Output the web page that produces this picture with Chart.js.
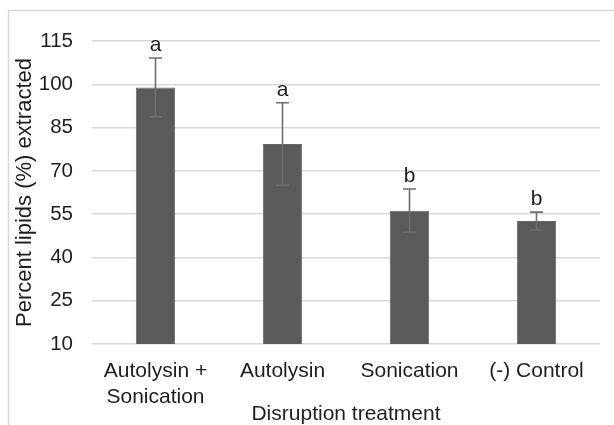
<!DOCTYPE html>
<html>
<head>
<meta charset="utf-8">
<script src="https://cdn.jsdelivr.net/npm/chart.js@4/dist/chart.umd.min.js"></script>
<style>
  html, body { margin: 0; padding: 0; background: #fff; }
  #wrap { position: relative; width: 614px; height: 425px; }
</style>
</head>
<body>
<div id="wrap"><canvas id="c" width="614" height="425"></canvas></div>
<script>
// ---- data ----
const categories = [['Autolysin +', 'Sonication'], 'Autolysin', 'Sonication', '(-) Control'];
const meanValues = [98.9, 79.3, 56.2, 52.6];
const errorValues = [10.2, 14.3, 7.5, 3.1];
const sigLetters = ['a', 'a', 'b', 'b'];
const yTicks = [10, 25, 40, 55, 70, 85, 100, 115];
const yTitle = 'Percent lipids (%) extracted';
const xTitle = 'Disruption treatment';

const FONT = '"Liberation Sans", Arial, sans-serif';
const TEXT = '#1e1e1e';

const framePlugin = {
  id: 'frame',
  beforeDraw(chart) {
    const ctx = chart.ctx;
    ctx.save();
    ctx.fillStyle = '#fff';
    ctx.fillRect(0, 0, chart.width, chart.height);
    ctx.strokeStyle = '#d9d9d9';
    ctx.lineWidth = 1.5;
    ctx.beginPath();
    ctx.moveTo(8.5, chart.height);
    ctx.lineTo(8.5, 10.5);
    ctx.lineTo(chart.width, 10.5);
    ctx.stroke();
    ctx.restore();
  }
};

const errorBarPlugin = {
  id: 'errorBars',
  afterDatasetsDraw(chart) {
    const ctx = chart.ctx;
    const meta = chart.getDatasetMeta(0);
    const y = chart.scales.y;
    ctx.save();
    meta.data.forEach((bar, i) => {
      const x = bar.x;
      const top = y.getPixelForValue(meanValues[i] + errorValues[i]);
      const bot = y.getPixelForValue(meanValues[i] - errorValues[i]);
      ctx.strokeStyle = '#6e6e6e';
      ctx.lineWidth = 1.6;
      ctx.beginPath();
      ctx.moveTo(x, top); ctx.lineTo(x, bot);
      ctx.moveTo(x - 6.5, top); ctx.lineTo(x + 6.5, top);
      ctx.moveTo(x - 6.5, bot); ctx.lineTo(x + 6.5, bot);
      ctx.stroke();
      ctx.fillStyle = TEXT;
      ctx.font = '21px ' + FONT;
      ctx.textAlign = 'center';
      ctx.textBaseline = 'alphabetic';
      ctx.fillText(sigLetters[i], x, top - 7);
    });
    ctx.restore();
  }
};

new Chart(document.getElementById('c'), {
  type: 'bar',
  data: {
    labels: categories,
    datasets: [{
      data: meanValues,
      backgroundColor: '#5a5a5a',
      borderColor: '#666666',
      borderWidth: 1,
      categoryPercentage: 1.0,
      barPercentage: 0.31
    }]
  },
  options: {
    responsive: false,
    animation: false,
    devicePixelRatio: 1,
    layout: { padding: { top: 41, right: 14, bottom: 0, left: 0 } },
    plugins: { legend: { display: false }, tooltip: { enabled: false } },
    scales: {
      x: {
        grid: { display: false, drawTicks: false },
        border: { display: false },
        ticks: {
          color: TEXT,
          font: { family: FONT, size: 21, lineHeight: 1.24 },
          padding: 14,
          maxRotation: 0,
          autoSkip: false
        },
        title: {
          display: true,
          text: xTitle,
          color: TEXT,
          font: { family: FONT, size: 21, lineHeight: 1.0 },
          padding: { top: 0, bottom: 0 }
        },
        afterFit(scale) { scale.height = 81; }
      },
      y: {
        min: yTicks[0],
        max: yTicks[yTicks.length - 1],
        afterBuildTicks(scale) { scale.ticks = yTicks.map(v => ({ value: v })); },
        grid: { color: '#d9d9d9', lineWidth: 1.5, drawTicks: false },
        border: { display: false },
        ticks: {
          color: TEXT,
          font: { family: FONT, size: 20.5 },
          padding: 19
        },
        title: {
          display: true,
          text: yTitle,
          color: TEXT,
          font: { family: FONT, size: 22, lineHeight: 1.2 },
          padding: { top: 12, bottom: 0 }
        },
        afterFit(scale) { scale.width = 92; }
      }
    }
  },
  plugins: [framePlugin, errorBarPlugin]
});
</script>
</body>
</html>
